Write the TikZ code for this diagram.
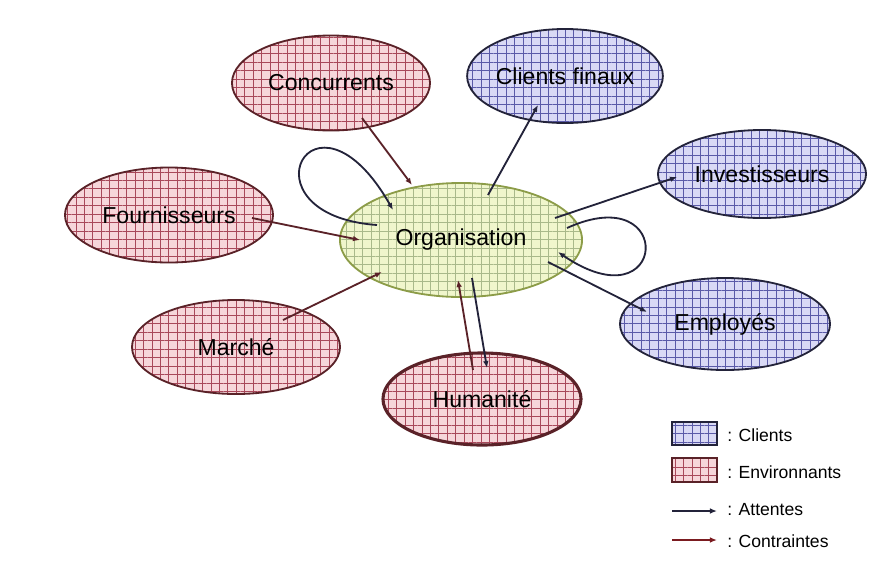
\documentclass[tikz,border=0pt]{standalone}
\usepackage{fontspec}
\setmainfont{Liberation Sans}
\usetikzlibrary{shapes.geometric,patterns.meta,arrows.meta}

\definecolor{clientfill}{HTML}{D9D9F5}
\definecolor{clientgrid}{HTML}{5A5AA8}
\definecolor{envfill}{HTML}{F6D6DA}
\definecolor{envgrid}{HTML}{A8485A}
\definecolor{orgfill}{HTML}{F0F6CC}
\definecolor{orggrid}{HTML}{A9B98A}
\definecolor{orgborder}{HTML}{8C9C48}
\definecolor{attcol}{HTML}{23233A}
\definecolor{concol}{HTML}{5A2228}

\begin{document}
\begin{tikzpicture}[
    x=0.025cm,
    y=-0.025cm,
    >={Latex[length=5pt,width=4pt]},
    font=\fontsize{16.4}{18}\selectfont,
    client/.style={
        ellipse,
        draw=attcol,
        line width=1.3pt,
        preaction={fill=clientfill},
        pattern={Hatch[angle=0,distance=6pt,line width=0.45pt]},
        pattern color=clientgrid,
        inner sep=0pt
    },
    envir/.style={
        ellipse,
        draw=concol,
        line width=1.3pt,
        preaction={fill=envfill},
        pattern={Hatch[angle=0,distance=6pt,line width=0.45pt]},
        pattern color=envgrid,
        inner sep=0pt
    },
    organ/.style={
        ellipse,
        draw=orgborder,
        line width=1.3pt,
        preaction={fill=orgfill},
        pattern={Hatch[angle=0,distance=6pt,line width=0.45pt]},
        pattern color=orggrid,
        inner sep=0pt
    },
    attente/.style={
        ->,
        draw=attcol,
        line width=1.3pt
    },
    contrainte/.style={
        ->,
        draw=concol,
        line width=1.3pt
    },
    lbl/.style={
        font=\fontsize{12.5}{14}\selectfont,
        anchor=west,
        inner sep=0pt
    }
]

\fill[white] (0,0) rectangle (880,560);
\useasboundingbox (0,0) rectangle (880,560);

% les ellipses
\node[organ, minimum width=6.05cm, minimum height=2.85cm] (org) at (461,240)
    {Organisation};

\node[envir, minimum width=4.95cm, minimum height=2.375cm] (conc) at (331,83)
    {Concurrents};

\node[client, minimum width=4.7cm, minimum height=2.35cm] (clif) at (565,76)
    {Clients finaux};

\node[client, minimum width=5.2cm, minimum height=2.2cm] (inv) at (762,174)
    {Investisseurs};

\node[client, minimum width=5.25cm, minimum height=2.3cm] (emp) at (725,324)
    {Employés};

\node[envir, line width=2.2pt, minimum width=4.95cm, minimum height=2.3cm] (hum) at (482,399)
    {Humanité};

\node[envir, minimum width=5.2cm, minimum height=2.35cm] (march) at (236,347)
    {Marché};

\node[envir, minimum width=5.2cm, minimum height=2.375cm] (four) at (169,215)
    {Fournisseurs};

% les fleches
\draw[contrainte]
    ([shift={(31,35)}]conc.center) --
    ([shift={(-49,-55)}]org.center);

\draw[attente]
    ([shift={(27,-45)}]org.center) --
    ([shift={(-27,29)}]clif.center);

\draw[contrainte]
    ([shift={(83,3)}]four.center) --
    ([shift={(-101,0)}]org.center);

\draw[contrainte]
    ([shift={(47,-27)}]march.center) --
    ([shift={(-79,32)}]org.center);

\draw[attente]
    ([shift={(94,-22)}]org.center) --
    ([shift={(-85,3)}]inv.center);

\draw[attente]
    ([shift={(87,22)}]org.center) --
    ([shift={(-78,-12)}]emp.center);

\draw[contrainte]
    ([shift={(-9,-29)}]hum.center) --
    ([shift={(-3,40)}]org.center);

\draw[attente]
    ([shift={(11,38)}]org.center) --
    ([shift={(5,-31)}]hum.center);

% boucles
\draw[attente]
    ([shift={(-84,-15)}]org.center) .. controls +(-140,-10) and +(-80,-140) ..
    ([shift={(-68,-30)}]org.center);

\draw[attente]
    ([shift={(106,-12)}]org.center) .. controls +(110,-50) and +(110,75) ..
    ([shift={(97,12)}]org.center);

% legende
\node[
    draw=attcol,
    line width=1pt,
    preaction={fill=clientfill},
    pattern={Hatch[angle=0,distance=6pt,line width=0.45pt]},
    pattern color=clientgrid,
    minimum width=1.125cm,
    minimum height=0.575cm,
    inner sep=0pt
] (legcli) at (694.5,433.5) {};
\node[lbl] (txtcli) at (727,435) {: Clients};

\node[
    draw=concol,
    line width=1pt,
    preaction={fill=envfill},
    pattern={Hatch[angle=0,distance=6pt,line width=0.45pt]},
    pattern color=envgrid,
    minimum width=1.125cm,
    minimum height=0.6cm,
    inner sep=0pt
] (legenv) at (694.5,470) {};
\node[lbl] (txtenv) at (727,472) {: Environnants};

\coordinate (attA) at (672,511);
\coordinate (attB) at (717,511);
\draw[attente, line width=1pt] (attA) -- (attB);
\node[lbl] (txtatt) at (727,510) {: Attentes};

\coordinate (conA) at (672,540);
\coordinate (conB) at (717,540);
\draw[contrainte, line width=1.5pt, draw=concol!80!red] (conA) -- (conB);
\node[lbl] (txtcon) at (727,541) {: Contraintes};

\end{tikzpicture}
\end{document}
